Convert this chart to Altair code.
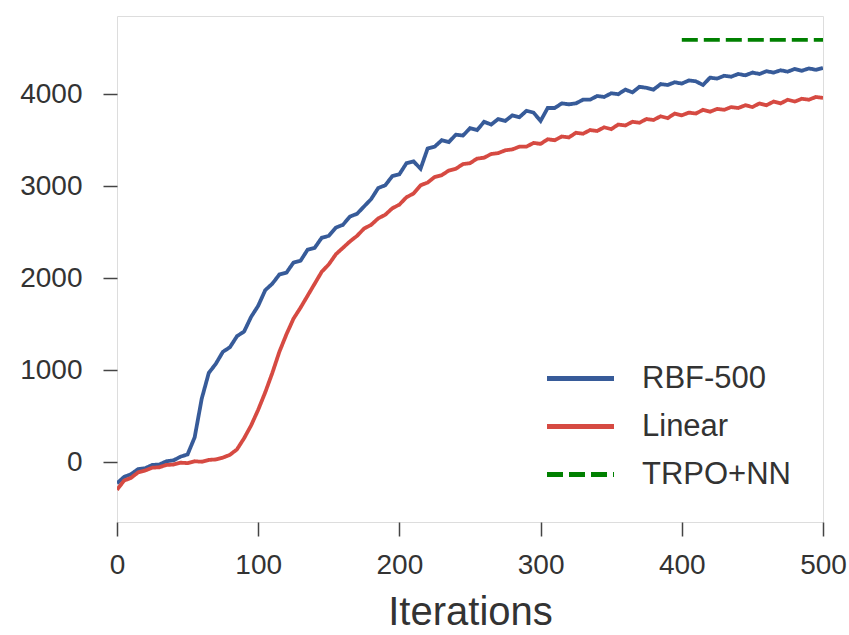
import altair as alt
import pandas as pd

# Iterations sampled every 5 steps
iters = list(range(0, 505, 5))

rbf_500 = [
    -230, -160, -130, -75, -65, -30, -25, 10, 20, 60,
    85, 270, 690, 970, 1070, 1200, 1250, 1370, 1420, 1580,
    1700, 1870, 1940, 2040, 2060, 2170, 2190, 2310, 2330, 2440,
    2460, 2550, 2580, 2670, 2700, 2780, 2860, 2980, 3010, 3110,
    3130, 3250, 3270, 3190, 3410, 3430, 3500, 3480, 3560, 3550,
    3630, 3610, 3700, 3670, 3730, 3710, 3770, 3750, 3820, 3800,
    3710, 3850, 3850, 3900, 3890, 3900, 3940, 3940, 3980, 3970,
    4010, 4000, 4050, 4020, 4080, 4070, 4050, 4110, 4100, 4130,
    4115, 4150, 4140, 4100, 4180, 4170, 4200, 4190, 4220, 4205,
    4235, 4220, 4250, 4235, 4260, 4245, 4275, 4255, 4280, 4265,
    4285,
]

linear = [
    -300, -200, -170, -110, -90, -60, -55, -30, -25, -5,
    -10, 10, 5, 25, 30, 50, 80, 140, 260, 400,
    570, 760, 970, 1200, 1390, 1560, 1680, 1810, 1940, 2070,
    2150, 2260, 2330, 2400, 2460, 2540, 2580, 2650, 2690, 2760,
    2800, 2880, 2920, 3010, 3040, 3100, 3120, 3170, 3190, 3240,
    3250, 3300, 3310, 3350, 3360, 3390, 3400, 3430, 3430, 3470,
    3460, 3510, 3500, 3540, 3530, 3580, 3570, 3610, 3600, 3640,
    3620, 3670, 3660, 3700, 3690, 3730, 3720, 3760, 3740, 3790,
    3770, 3800, 3790, 3830, 3810, 3840, 3830, 3860, 3850, 3880,
    3860, 3900, 3880, 3920, 3900, 3940, 3920, 3950, 3940, 3970,
    3960,
]

trpo_iters = [400, 500]
trpo_nn = [4590, 4590]

series_names = ["RBF-500", "Linear", "TRPO+NN"]
series_colors = ["#375b99", "#d64a42", "#008000"]
series_dashes = [[1, 0], [1, 0], [16, 6]]

rows = []
for x, y in zip(iters, rbf_500):
    rows.append({"Iterations": x, "Return": y, "series": "RBF-500"})
for x, y in zip(iters, linear):
    rows.append({"Iterations": x, "Return": y, "series": "Linear"})
for x, y in zip(trpo_iters, trpo_nn):
    rows.append({"Iterations": x, "Return": y, "series": "TRPO+NN"})
df = pd.DataFrame(rows)

FONT = "Liberation Sans"
GRAY = "#333333"
FRAME = "#444444"

legend_kw = dict(
    title=None,
    orient="none",
    legendX=444,
    legendY=343,
    symbolType="M-2,0L2,0",
    symbolSize=1122,
    symbolStrokeWidth=5,
    labelFontSize=31,
    labelFont=FONT,
    labelColor=GRAY,
    labelOffset=42,
    rowPadding=13,
    padding=0,
)

chart = alt.Chart(df).mark_line(strokeWidth=3.8, clip=True).encode(
    x=alt.X(
        "Iterations:Q",
        scale=alt.Scale(domain=[0, 500], nice=False, zero=False),
        axis=alt.Axis(
            title="Iterations",
            values=[0, 100, 200, 300, 400, 500],
            format="d",
            grid=False,
            domain=False,
            labelFlush=False,
            tickSize=14,
            tickWidth=1.5,
            tickColor=FRAME,
            labelFontSize=28,
            labelColor=GRAY,
            labelFont=FONT,
            labelPadding=15,
            titleFontSize=40,
            titleFont=FONT,
            titleFontWeight="normal",
            titleColor=GRAY,
            titlePadding=13,
        ),
    ),
    y=alt.Y(
        "Return:Q",
        scale=alt.Scale(domain=[-650, 4850], nice=False, zero=False),
        axis=alt.Axis(
            title=None,
            values=[0, 1000, 2000, 3000, 4000],
            format="d",
            grid=False,
            domain=False,
            labelFlush=False,
            tickSize=14,
            tickWidth=1.5,
            tickColor=FRAME,
            labelFontSize=28,
            labelColor=GRAY,
            labelFont=FONT,
            labelPadding=21,
        ),
    ),
    color=alt.Color(
        "series:N",
        scale=alt.Scale(domain=series_names, range=series_colors),
        legend=alt.Legend(**legend_kw),
    ),
    strokeDash=alt.StrokeDash(
        "series:N",
        scale=alt.Scale(domain=series_names, range=series_dashes),
        legend=alt.Legend(**legend_kw),
    ),
).properties(
    width=706,
    height=506,
    autosize=alt.AutoSizeParams(type="none"),
    padding={"left": 117, "top": 16, "right": 26, "bottom": 113},
).configure_view(
    stroke=FRAME,
    strokeWidth=2.5,
).configure(
    background="white",
)

chart.save("out.html", embed_options={"renderer": "svg", "actions": False})
